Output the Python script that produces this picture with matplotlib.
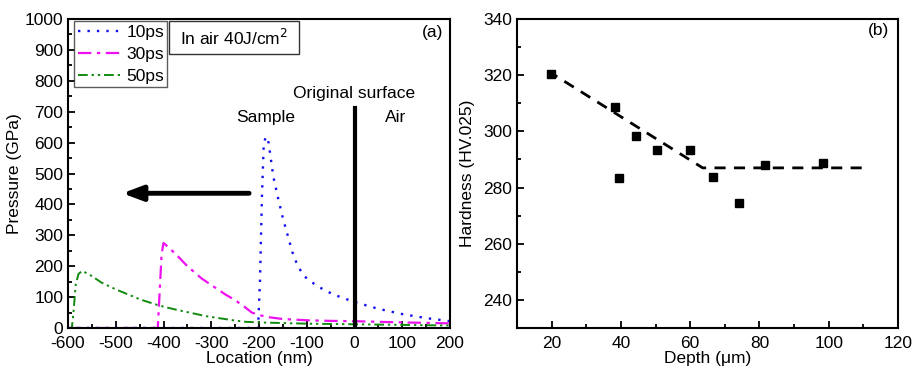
import numpy as np
import matplotlib.pyplot as plt
from matplotlib.patches import Rectangle

plt.rcParams['font.family'] = ['Liberation Sans', 'DejaVu Sans']
plt.rcParams['axes.unicode_minus'] = False

# (a) pressure profiles
x10 = [-600, -300, -202, -198, -194, -190, -185, -180, -170, -160, -150, -140, -130, -120,
       -110, -100, -80, -60, -40, -20, 0, 50, 100, 150, 200]
p10 = [0, 0, 0, 150, 420, 600, 620, 600, 490, 420, 355, 300, 245, 205,
       178, 160, 138, 120, 106, 95, 84, 62, 45, 32, 22]
x30 = [-600, -412, -408, -404, -400, -390, -370, -350, -320, -295, -270, -250, -230, -215,
       -200, -180, -150, -100, -50, 0, 100, 200]
p30 = [0, 0, 120, 240, 275, 262, 232, 200, 160, 134, 108, 90, 68, 50,
       42, 35, 29, 25, 23, 22, 18, 15]
x50 = [-600, -592, -588, -584, -578, -570, -550, -530, -500, -470, -450, -420, -400,
       -370, -340, -310, -280, -250, -228, -200, -150, -100, 0, 100, 200]
p50 = [0, 0, 60, 140, 175, 185, 168, 147, 125, 106, 93, 78, 69,
       58, 48, 38, 31, 24, 20, 18, 16, 14, 12, 10, 8]

# (b) hardness vs depth
depth = [19.8, 38.4, 39.3, 44.4, 50.5, 59.9, 66.6, 74.0, 81.6, 98.4]
hard = [320.3, 308.8, 283.3, 298.2, 293.2, 293.3, 283.6, 274.4, 288.2, 288.6]
fit_x = [18.9, 63.6, 111]
fit_y = [321.5, 287, 287]

fig = plt.figure(figsize=(9.13, 3.72), dpi=100)
ax1 = fig.add_axes([0.0745, 0.1183, 0.4184, 0.8306])
ax2 = fig.add_axes([0.5663, 0.1183, 0.4173, 0.8306])

l1, = ax1.plot(x10, p10, color='#1010ee', ls=(0, (1, 3)), lw=1.7, label='10ps')
l2, = ax1.plot(x30, p30, color='#ee10ee', ls=(0, (6, 2.5, 1.5, 2.5)), lw=1.6, label='30ps')
l3, = ax1.plot(x50, p50, color='#108a10', ls=(0, (5, 2, 1.2, 2, 1.2, 2)), lw=1.4, label='50ps')
ax1.plot([0, 0], [0, 712], color='black', lw=3)
ax1.annotate('', xy=(-492, 436), xytext=(-215, 436),
             arrowprops=dict(arrowstyle='-|>,head_length=1.2,head_width=0.45', color='black', lw=3.5))
ax1.text(-185, 680, 'Sample', ha='center', va='center', fontsize=12.5)
ax1.text(0, 760, 'Original surface', ha='center', va='center', fontsize=12.5)
ax1.text(86, 680, 'Air', ha='center', va='center', fontsize=12.5)
ax1.text(185, 955, '(a)', ha='right', va='center', fontsize=12.5)
ax1.add_patch(Rectangle((0.264, 0.887), 0.341, 0.1065, transform=ax1.transAxes,
                        fc='white', ec='#333333', lw=1.0, zorder=5))
ax1.text(0.4345, 0.94, 'In air 40J/cm$^2$', transform=ax1.transAxes,
         ha='center', va='center', fontsize=12.5, zorder=6)
leg = ax1.legend(handles=[l1, l2, l3], loc='upper left', bbox_to_anchor=(0.016, 0.993),
                 fontsize=12.5, frameon=True, fancybox=False, edgecolor='#333333',
                 handlelength=2.5, handletextpad=0.3, borderpad=0.2, labelspacing=0.4,
                 markerfirst=True, borderaxespad=0)
leg.get_frame().set_linewidth(1.0)
leg.set_zorder(7)
ax1.set_xlim(-600, 200)
ax1.set_ylim(0, 1000)
ax1.set_xticks(np.arange(-600, 201, 100))
ax1.set_xticks(np.arange(-550, 200, 100), minor=True)
ax1.set_yticks(np.arange(0, 1001, 100))
ax1.set_yticks(np.arange(50, 1000, 100), minor=True)
ax1.set_xlabel('Location (nm)', fontsize=12.5, labelpad=0)
ax1.set_ylabel('Pressure (GPa)', fontsize=12.5, labelpad=2)

ax2.plot(depth, hard, 's', color='black', ms=6)
ax2.plot(fit_x, fit_y, color='black', ls=(0, (4, 3)), lw=2)
ax2.text(117.5, 336, '(b)', ha='right', va='center', fontsize=12.5)
ax2.set_xlim(10, 120)
ax2.set_ylim(230, 340)
ax2.set_xticks(np.arange(20, 121, 20))
ax2.set_xticks(np.arange(30, 120, 20), minor=True)
ax2.set_yticks(np.arange(240, 341, 20))
ax2.set_yticks(np.arange(250, 340, 20), minor=True)
ax2.set_xlabel('Depth (μm)', fontsize=12.5, labelpad=0)
ax2.set_ylabel('Hardness (HV.025)', fontsize=12.5, labelpad=6)

for ax in (ax1, ax2):
    for s in ax.spines.values():
        s.set_linewidth(1.5)
    ax.tick_params(which='both', direction='in', labelsize=12.5, width=1.3)
    ax.tick_params(which='major', length=5)
    ax.tick_params(which='minor', length=3)
    ax.tick_params(axis='x', pad=6)

fig.savefig('out.png', dpi=100)
